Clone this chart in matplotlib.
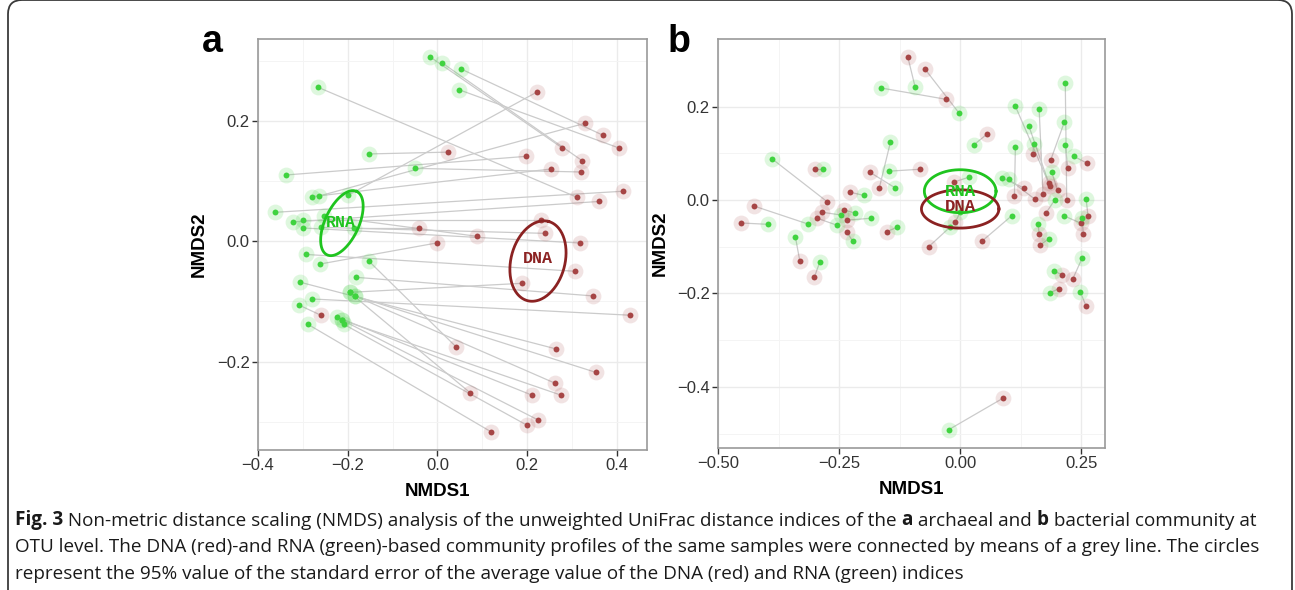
import numpy as np
import matplotlib
matplotlib.use("Agg")
import matplotlib.pyplot as plt
from matplotlib.patches import FancyBboxPatch
from matplotlib.transforms import IdentityTransform

# ---- panel a (archaea): paired RNA / DNA ordination scores ----
a_rna_x = [-0.267, -0.016, 0.011, 0.053, 0.047, -0.153, -0.338, -0.049, -0.280, -0.264,
           -0.362, -0.200, -0.322, -0.300, -0.300, -0.253, -0.260, -0.187, -0.293, -0.262,
           -0.153, -0.307, -0.182, -0.196, -0.184, -0.280, -0.309, -0.224, -0.213, -0.209,
           -0.289, -0.184, -0.213, -0.196]
a_rna_y = [0.256, 0.306, 0.296, 0.286, 0.252, 0.145, 0.110, 0.121, 0.074, 0.075,
           0.048, 0.076, 0.032, 0.035, 0.022, 0.042, 0.023, 0.022, -0.022, -0.038,
           -0.033, -0.068, -0.060, -0.085, -0.091, -0.096, -0.106, -0.126, -0.131, -0.138,
           -0.138, -0.091, -0.131, -0.085]
a_dna_x = [0.311, 0.278, 0.322, 0.369, 0.404, 0.024, 0.198, 0.320, 0.253, 0.329,
           0.413, 0.222, 0.360, 0.231, 0.318, 0.089, 0.240, -0.042, 0.307, -0.002,
           0.042, 0.264, 0.347, 0.189, 0.353, 0.429, -0.260, 0.211, 0.224, 0.200,
           0.120, 0.262, 0.276, 0.073]
a_dna_y = [0.073, 0.155, 0.134, 0.176, 0.155, 0.148, 0.141, 0.115, 0.120, 0.196,
           0.083, 0.248, 0.066, 0.035, -0.003, 0.008, 0.013, 0.022, -0.050, -0.003,
           -0.176, -0.179, -0.091, -0.070, -0.218, -0.123, -0.123, -0.256, -0.297, -0.306,
           -0.317, -0.236, -0.256, -0.252]

# ---- panel b (bacteria) ----
b_rna_x = [-0.093, -0.002, -0.163, 0.028, -0.146, 0.018, 0.000, -0.020, 0.106, 0.114,
           0.163, 0.217, 0.142, 0.215, 0.152, 0.114, 0.217, 0.234, 0.189, 0.087,
           0.100, 0.195, 0.260, 0.215, 0.252, 0.161, 0.183, 0.252, 0.193, 0.185,
           0.248, -0.024, -0.396, -0.315, -0.388, -0.283, -0.134, -0.144, -0.199, -0.246,
           -0.254, -0.217, -0.185, -0.222, -0.130, -0.340, -0.290]
b_rna_y = [0.242, 0.186, 0.240, 0.118, 0.062, 0.049, -0.026, -0.057, -0.034, 0.201,
           0.195, 0.250, 0.158, 0.167, 0.120, 0.114, 0.118, 0.094, 0.060, 0.047,
           0.045, 0.000, 0.002, -0.034, -0.038, -0.051, -0.083, -0.124, -0.152, -0.199,
           -0.197, -0.492, -0.052, -0.051, 0.088, 0.066, 0.026, 0.124, 0.010, -0.032,
           -0.054, -0.028, -0.039, -0.088, -0.058, -0.080, -0.133]
b_dna_x = [-0.108, -0.073, -0.030, 0.055, -0.083, -0.012, -0.010, -0.065, 0.045, 0.183,
           0.171, 0.220, 0.185, 0.187, 0.150, 0.112, 0.222, 0.262, 0.201, 0.132,
           0.154, 0.177, 0.264, 0.250, 0.254, 0.163, 0.165, 0.232, 0.211, 0.203,
           0.260, 0.089, -0.453, -0.425, -0.274, -0.299, -0.187, -0.167, -0.228, -0.285,
           -0.295, -0.240, -0.234, -0.234, -0.152, -0.331, -0.301]
b_dna_y = [0.306, 0.281, 0.216, 0.141, 0.066, 0.039, -0.047, -0.100, -0.088, 0.036,
           0.013, 0.000, 0.030, 0.086, 0.098, 0.009, 0.069, 0.079, 0.021, 0.026,
           0.002, -0.028, -0.034, -0.050, -0.072, -0.073, -0.096, -0.170, -0.160, -0.190,
           -0.227, -0.424, -0.049, -0.013, -0.004, 0.066, 0.060, 0.026, 0.017, -0.026,
           -0.039, -0.021, -0.043, -0.068, -0.068, -0.131, -0.165]

# 95% ellipses: centre and the two semi-axis vectors (data units)
a_rna_ell = ((-0.213, 0.030), (0.033, 0.0527), (0.034, -0.012))
a_dna_ell = ((0.224, -0.033), (0.0236, 0.0658), (0.058, -0.0116))
b_rna_ell = ((0.000, 0.019), (0.074, 0.0), (0.0, 0.046))
b_dna_ell = ((0.000, -0.019), (0.080, 0.0), (0.0, 0.041))

GREEN = "#3fd33f"
RED = "#a64545"
ELL_GREEN = "#1fc41f"
ELL_RED = "#8b2222"


def ellipse_xy(ell, n=200):
    (cx, cy), u, v = ell
    t = np.linspace(0, 2 * np.pi, n)
    return (cx + u[0] * np.cos(t) + v[0] * np.sin(t),
            cy + u[1] * np.cos(t) + v[1] * np.sin(t))


def draw_panel(ax, rx, ry, dx, dy, rna_ell, dna_ell, label_size, label_pos):
    rx, ry, dx, dy = map(np.asarray, (rx, ry, dx, dy))
    for i in range(len(rx)):
        ax.plot([rx[i], dx[i]], [ry[i], dy[i]], color="#cbcbcb", lw=0.9, zorder=2)
    ax.scatter(dx, dy, s=130, color=RED, alpha=0.15, lw=0, zorder=3)
    ax.scatter(rx, ry, s=130, color=GREEN, alpha=0.17, lw=0, zorder=3)
    ax.scatter(dx, dy, s=18, color=RED, lw=0, zorder=4)
    ax.scatter(rx, ry, s=18, color=GREEN, lw=0, zorder=4)
    ex, ey = ellipse_xy(rna_ell)
    ax.plot(ex, ey, color=ELL_GREEN, lw=2, zorder=5)
    ex, ey = ellipse_xy(dna_ell)
    ax.plot(ex, ey, color=ELL_RED, lw=2, zorder=5)
    (rtx, rty), (dtx, dty) = label_pos
    ax.text(rtx, rty, "RNA", color=ELL_GREEN, fontsize=label_size, family="Liberation Mono",
            weight="bold", ha="center", va="center", zorder=6)
    ax.text(dtx, dty, "DNA", color=ELL_RED, fontsize=label_size, family="Liberation Mono",
            weight="bold", ha="center", va="center", zorder=6)


def style_axes(ax, xmaj, xminor, xlabels, ymaj, yminor, ylabels):
    ax.set_xticks(xmaj)
    ax.set_xticklabels(xlabels)
    ax.set_yticks(ymaj)
    ax.set_yticklabels(ylabels)
    ax.set_xticks(xminor, minor=True)
    ax.set_yticks(yminor, minor=True)
    ax.grid(True, which="major", color="#ebebeb", lw=1.0, zorder=0)
    ax.grid(True, which="minor", color="#f4f4f4", lw=0.7, zorder=0)
    ax.set_axisbelow(True)
    ax.tick_params(which="minor", length=0)
    ax.tick_params(which="major", length=4, width=1, color="#333333",
                   labelsize=12, labelcolor="#333333", pad=2)
    for s in ax.spines.values():
        s.set_color("#9a9a9a")
        s.set_linewidth(1.2)


plt.rcParams["font.family"] = ["Liberation Sans", "DejaVu Sans"]
fig = plt.figure(figsize=(12.95, 5.90), dpi=100)
W, H = 1295, 590

# outer rounded frame
frame = FancyBboxPatch((8, -30), 1284, 620, boxstyle="round,pad=0,rounding_size=14",
                       transform=IdentityTransform(), fill=False, ec="#3a3a3a", lw=1.3)
fig.patches.append(frame)

ax_a = fig.add_axes([258 / W, 1 - 450 / H, 389 / W, 411 / H])
ax_b = fig.add_axes([718 / W, 1 - 448 / H, 387 / W, 409 / H])

draw_panel(ax_a, a_rna_x, a_rna_y, a_dna_x, a_dna_y, a_rna_ell, a_dna_ell, 12,
           ((-0.216, 0.031), (0.224, -0.028)))
ax_a.set_xlim(-0.398, 0.467)
ax_a.set_ylim(-0.347, 0.336)
style_axes(ax_a, [-0.4, -0.2, 0.0, 0.2, 0.4], [-0.3, -0.1, 0.1, 0.3],
           ["\u22120.4", "\u22120.2", "0.0", "0.2", "0.4"],
           [-0.2, 0.0, 0.2], [-0.3, -0.1, 0.1, 0.3], ["\u22120.2", "0.0", "0.2"])

draw_panel(ax_b, b_rna_x, b_rna_y, b_dna_x, b_dna_y, b_rna_ell, b_dna_ell, 12.5,
           ((0.0, 0.018), (0.0, -0.014)))
ax_b.set_xlim(-0.488, 0.299)
ax_b.set_ylim(-0.531, 0.345)
style_axes(ax_b, [-0.5, -0.25, 0.0, 0.25], [-0.375, -0.125, 0.125],
           ["\u22120.50", "\u22120.25", "0.00", "0.25"],
           [-0.4, -0.2, 0.0, 0.2], [-0.5, -0.3, -0.1, 0.1],
           ["\u22120.4", "\u22120.2", "0.0", "0.2"])

for ax, lx in ((ax_a, (437 - 258) / 389), (ax_b, 0.5)):
    ax.set_xlabel("NMDS1", fontsize=13.5, weight="bold")
    ax.xaxis.set_label_coords(lx, -0.08)
    ax.set_ylabel("NMDS2", fontsize=13.5, weight="bold")

ax_a.yaxis.set_label_coords(-0.13, 0.5)
ax_b.yaxis.set_label_coords(-0.128, 0.5)

fig.text(212 / W, 1 - 42 / H, "a", fontsize=27, weight="bold", ha="center", va="center")
fig.text(679 / W, 1 - 42 / H, "b", fontsize=27, weight="bold", ha="center", va="center")

# caption with bold fragments
cap_lines = [
    [("Fig. 3", True), (" Non-metric distance scaling (NMDS) analysis of the unweighted UniFrac distance indices of the ", False),
     ("a", True), (" archaeal and ", False), ("b", True), (" bacterial community at", False)],
    [("OTU level. The DNA (red)-and RNA (green)-based community profiles of the same samples were connected by means of a grey line. The circles", False)],
    [("represent the 95% value of the standard error of the average value of the DNA (red) and RNA (green) indices", False)],
]
cap_y = [525, 552, 579]
cap_size = 13.6
for pieces, yb in zip(cap_lines, cap_y):
    prev = None
    for txt, bold in pieces:
        kw = dict(fontsize=cap_size, family=["Open Sans", "DejaVu Sans"],
                  weight="bold" if bold else "normal", color="#1a1a1a")
        if prev is None:
            prev = fig.text(15 / W, 1 - yb / H, txt, va="baseline", ha="left", **kw)
        else:
            prev = fig.add_artist(matplotlib.text.Annotation(
                txt, xy=(1, 0), xycoords=prev, va="bottom", ha="left", **kw))

fig.savefig("out.png", dpi=100)
